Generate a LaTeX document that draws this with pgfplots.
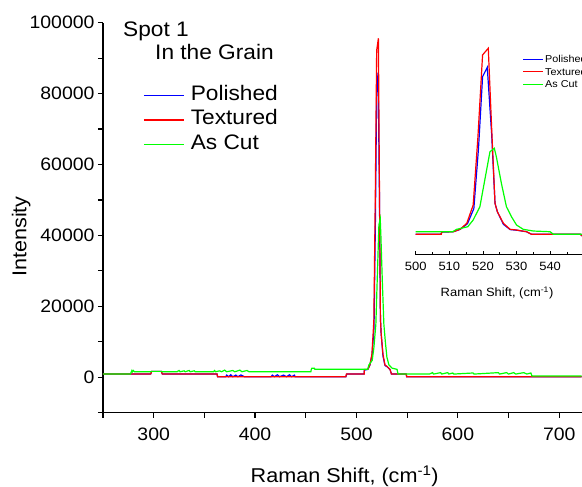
\documentclass[border=0pt]{standalone}
\usepackage{fontspec}
\setmainfont[FakeStretch=1.08]{Liberation Sans}
\usepackage{pgfplots}
\usepackage{pgfplotstable}
\pgfplotsset{compat=1.18}

\pgfplotstableread{
x y
250 900
297 900
298 1660
307.5 1660
308.5 900
362.5 900
363 140
489.5 140
490 900
507.6 900
507.8 2220
511.2 2220
513.2 3450
515.2 6500
517.1 15800
518.5 50000
519.9 92200
521.6 95600
522.6 55000
523.6 16700
524.3 12400
526.1 6500
528.1 3450
530 3090
533 2220
534.5 900
549 900
549.5 140
722 140
}\textured

\pgfplotstableread{
x y
250 900
297 900
298 1660
307.5 1660
308.5 900
362.5 900
363 140
371 140
372 600
374 140
376 700
378 140
381 600
383 140
386 650
389.5 140
415.8 140
417 600
419 140
422 700
424 140
428 600
431 140
434 700
436 140
438.8 600
439.5 140
489.5 140
490.5 900
507.4 900
507.8 2000
511.2 2220
513.2 3400
515.4 6300
517.3 14000
518.7 45000
519.9 81100
521.3 85900
522.6 52000
523.6 16700
524.3 12400
526.1 6000
528.1 3300
530 3000
533 2220
534.5 900
549 900
549.5 140
722 140
}\polished

\pgfplotstableread{
x y
250 900
277 900
278 1550
278.5 1900
279 1550
280 1900
281 1550
297 1550
298 1660
307.5 1660
308.5 1550
323 1550
325 1900
326 1550
330 1800
331 1550
335 1900
336 1550
340 1800
341 1550
359 1550
360 1900
361 1550
365 1800
367 1550
370 2000
372 1550
378 1900
380 1550
385 2000
387 1550
392 1900
394 1550
455 1550
455.4 2230
456 2550
458.5 2550
459 2230
509.6 2230
511 2220
512.2 3450
515.5 4770
517.1 8180
519.1 14950
522.1 42960
523.4 44690
524 40400
525.5 26870
527 14950
528.5 9860
530 5640
532 3450
535 2580
540 2220
541 900
572 900
575 1300
576 900
583 1300
584 900
590 1300
591 900
595 1200
596 900
615 1200
616 900
640 1300
641 900
648 1300
650 900
655 1300
657 900
665 1300
668 900
672 1200
673 340
722 340
}\ascut

\definecolor{pblue}{RGB}{0,0,255}
\definecolor{tred}{RGB}{255,0,0}
\definecolor{agreen}{RGB}{0,255,0}

\begin{document}
\begin{tikzpicture}
\useasboundingbox (0,0) rectangle (582pt,487pt);
\begin{axis}[
  at={(103pt,74.3pt)}, anchor=south west,
  scale only axis, width=478.6pt, height=390pt,
  xmin=250, xmax=722, ymin=-10000, ymax=100000,
  axis x line=bottom, axis y line=left,
  axis line style={-, line width=1.6pt},
  every tick/.style={black, line width=1.2pt},
  tick align=outside,
  major tick length=5pt, minor tick length=5pt,
  xtick={300,400,500,600,700}, minor xtick={250,350,450,550,650},
  ytick={0,20000,40000,60000,80000,100000},
  minor ytick={-10000,10000,30000,50000,70000,90000},
  scaled y ticks=false, scaled x ticks=false,
  /pgf/number format/.cd, fixed, precision=0, 1000 sep={}, assume math mode=true, /pgfplots/.cd,
  tick label style={font=\fontsize{18}{18}\selectfont},
  xticklabel style={yshift=-7pt},
  xlabel={Raman Shift, (cm\textsuperscript{-1})},
  ylabel={Intensity},
  xlabel style={font=\fontsize{20}{20}\selectfont, at={(axis description cs:0.505,-0.163)}, anchor=center},
  ylabel style={font=\fontsize{20}{20}\selectfont, at={(axis description cs:-0.171,0.452)}, anchor=center},
  legend style={at={(axis description cs:0.0836,0.846)}, anchor=north west, draw=none, fill=none,
    font=\fontsize{21}{21}\selectfont, inner sep=0pt, column sep=4pt,
    nodes={inner sep=2.3pt, text height=15pt, text depth=5pt}},
  legend cell align=left,
  legend image code/.code={\draw[#1, line width=1.3pt] (0pt,0pt) -- (40pt,0pt);},
]
\addplot[pblue, line width=1.2pt] table[x=x,y=y] {\polished};
\addlegendentry{Polished}
\addplot[tred, line width=1.2pt] table[x=x,y=y] {\textured};
\addlegendentry{Textured}
\addplot[agreen, line width=1.2pt] table[x=x,y=y] {\ascut};
\addlegendentry{As Cut}
\end{axis}

\node[anchor=west, font=\fontsize{21}{21}\selectfont, inner sep=0pt] at (123pt,456pt) {Spot 1};
\node[anchor=west, font=\fontsize{21}{21}\selectfont, inner sep=0pt] at (155pt,435pt) {In the Grain};

\begin{axis}[
  at={(415.7pt,232.1pt)}, anchor=south west,
  scale only axis, width=168pt, height=224.9pt,
  xmin=500, xmax=550, ymin=-9570, ymax=104900,
  axis x line=bottom, axis y line=none,
  axis line style={-, line width=0.8pt},
  every tick/.style={black, line width=0.8pt},
  tick align=inside,
  major tick length=4pt, minor tick length=3pt,
  xtick={500,510,520,530,540}, minor xtick={505,515,525,535,545},
  scaled x ticks=false,
  /pgf/number format/.cd, fixed, precision=0, 1000 sep={}, assume math mode=true, /pgfplots/.cd,
  tick label style={font=\fontsize{12}{12}\selectfont},
  xticklabel style={yshift=-4pt},
  xlabel={Raman Shift, (cm\textsuperscript{-1})},
  xlabel style={font=\fontsize{12}{12}\selectfont, at={(axis description cs:0.484,-0.169)}, anchor=center},
  legend style={at={(axis description cs:0.634,0.896)}, anchor=north west, draw=none, fill=none,
    font=\fontsize{10}{10}\selectfont, inner sep=0pt, column sep=1pt, row sep=1pt,
    nodes={inner sep=0.5pt, text height=8.5pt, text depth=2pt}},
  legend cell align=left,
  legend image code/.code={\draw[#1, line width=1.3pt] (0pt,0pt) -- (20pt,0pt);},
]
\addplot[pblue, line width=1.2pt] table[x=x,y=y] {\polished};
\addlegendentry{Polished}
\addplot[tred, line width=1.2pt] table[x=x,y=y] {\textured};
\addlegendentry{Textured}
\addplot[agreen, line width=1.2pt] table[x=x,y=y] {\ascut};
\addlegendentry{As Cut}
\end{axis}
\end{tikzpicture}
\end{document}
